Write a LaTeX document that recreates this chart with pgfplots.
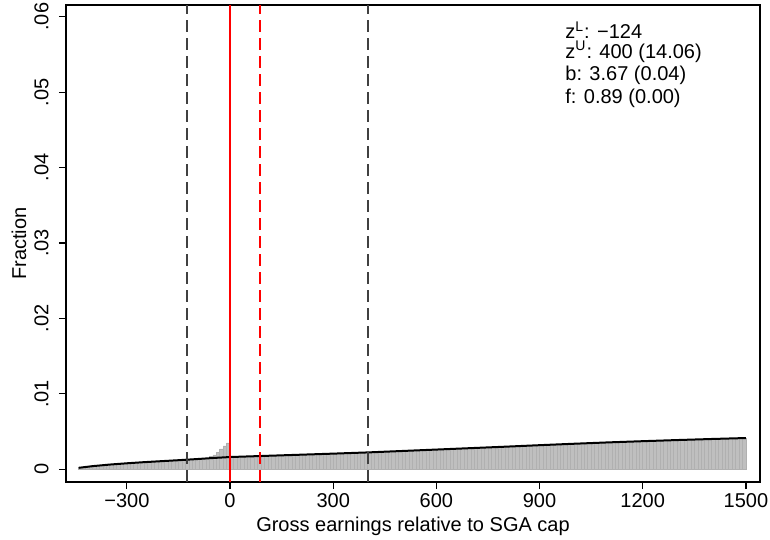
\documentclass[border=0pt]{standalone}
\usepackage{fontspec}
\setmainfont{Liberation Sans}
\usepackage{pgfplots}
\pgfplotsset{compat=1.18}
\begin{document}
\begin{tikzpicture}
\useasboundingbox (-33pt,-29pt) rectangle (352pt,241pt);
\begin{axis}[
  at={(0,0)}, anchor=south west,
  width=347pt, height=238.5pt, scale only axis,
  xmin=-477, xmax=1541, ymin=-0.00168, ymax=0.06155,
  axis line style={black, line width=0.6pt},
  tick align=outside, major tick length=3.5pt,
  tick style={black, line width=0.6pt},
  xtick pos=bottom, ytick pos=left,
  xtick={-300,0,300,600,900,1200,1500},
  xticklabels={−300,0,300,600,900,1200,1500},
  xticklabel style={inner ysep=2pt},
  ytick={0,0.01,0.02,0.03,0.04,0.05,0.06},
  yticklabels={0,.01,.02,.03,.04,.05,.06},
  scaled y ticks=false,
  yticklabel style={rotate=90, anchor=south, inner ysep=5pt},
  xlabel={Gross earnings relative to SGA cap},
  ylabel={Fraction},
  every axis x label/.style={at={(axis description cs:0.5,-0.0587)}, anchor=north},
  every axis y label/.style={at={(axis description cs:-0.047,0.5)}, rotate=90, anchor=south},
  clip=true,
]
\addplot[ybar interval, fill=gray!50, draw=gray!62, line width=0.25pt] table[row sep=\\] {
x y\\
-440 0.00023\\ -430 0.00028\\ -420 0.00034\\ -410 0.00039\\
-400 0.00044\\ -390 0.00048\\ -380 0.00053\\ -370 0.00057\\ -360 0.00061\\
-350 0.00065\\ -340 0.00068\\ -330 0.00072\\ -320 0.00075\\ -310 0.00078\\
-300 0.00082\\ -290 0.00085\\ -280 0.00088\\ -270 0.00091\\ -260 0.00094\\
-250 0.00096\\ -240 0.00099\\ -230 0.00102\\ -220 0.00104\\ -210 0.00107\\
-200 0.00109\\ -190 0.00112\\ -180 0.00114\\ -170 0.00117\\ -160 0.00120\\
-150 0.00122\\ -140 0.00125\\ -130 0.00128\\ -120 0.00131\\ -110 0.00134\\
-100 0.00137\\ -90 0.00140\\ -80 0.00143\\ -70 0.00146\\ -60 0.00172\\
-50 0.00190\\ -40 0.00220\\ -30 0.00270\\ -20 0.00310\\ -10 0.00350\\
0 0.00164\\ 10 0.00165\\ 20 0.00167\\ 30 0.00168\\ 40 0.00170\\
50 0.00171\\ 60 0.00173\\ 70 0.00174\\ 80 0.00176\\ 90 0.00177\\
100 0.00179\\ 110 0.00180\\ 120 0.00182\\ 130 0.00183\\ 140 0.00185\\
150 0.00186\\ 160 0.00188\\ 170 0.00189\\ 180 0.00191\\ 190 0.00192\\
200 0.00194\\ 210 0.00195\\ 220 0.00197\\ 230 0.00198\\ 240 0.00200\\
250 0.00201\\ 260 0.00203\\ 270 0.00204\\ 280 0.00206\\ 290 0.00207\\
300 0.00209\\ 310 0.00210\\ 320 0.00212\\ 330 0.00214\\ 340 0.00215\\
350 0.00217\\ 360 0.00218\\ 370 0.00220\\ 380 0.00222\\ 390 0.00223\\
400 0.00225\\ 410 0.00227\\ 420 0.00229\\ 430 0.00231\\ 440 0.00233\\
450 0.00234\\ 460 0.00236\\ 470 0.00238\\ 480 0.00240\\ 490 0.00242\\
500 0.00244\\ 510 0.00246\\ 520 0.00248\\ 530 0.00250\\ 540 0.00252\\
550 0.00253\\ 560 0.00255\\ 570 0.00257\\ 580 0.00259\\ 590 0.00261\\
600 0.00263\\ 610 0.00265\\ 620 0.00267\\ 630 0.00269\\ 640 0.00271\\
650 0.00272\\ 660 0.00274\\ 670 0.00276\\ 680 0.00278\\ 690 0.00280\\
700 0.00282\\ 710 0.00284\\ 720 0.00286\\ 730 0.00288\\ 740 0.00290\\
750 0.00291\\ 760 0.00293\\ 770 0.00295\\ 780 0.00297\\ 790 0.00299\\
800 0.00301\\ 810 0.00303\\ 820 0.00305\\ 830 0.00307\\ 840 0.00309\\
850 0.00311\\ 860 0.00313\\ 870 0.00315\\ 880 0.00317\\ 890 0.00319\\
900 0.00321\\ 910 0.00323\\ 920 0.00325\\ 930 0.00327\\ 940 0.00329\\
950 0.00330\\ 960 0.00332\\ 970 0.00334\\ 980 0.00336\\ 990 0.00338\\
1000 0.00340\\ 1010 0.00342\\ 1020 0.00344\\ 1030 0.00345\\ 1040 0.00347\\
1050 0.00349\\ 1060 0.00351\\ 1070 0.00353\\ 1080 0.00354\\ 1090 0.00356\\
1100 0.00358\\ 1110 0.00359\\ 1120 0.00361\\ 1130 0.00363\\ 1140 0.00364\\
1150 0.00366\\ 1160 0.00367\\ 1170 0.00369\\ 1180 0.00371\\ 1190 0.00372\\
1200 0.00374\\ 1210 0.00375\\ 1220 0.00377\\ 1230 0.00378\\ 1240 0.00380\\
1250 0.00381\\ 1260 0.00383\\ 1270 0.00384\\ 1280 0.00386\\ 1290 0.00387\\
1300 0.00389\\ 1310 0.00390\\ 1320 0.00392\\ 1330 0.00393\\ 1340 0.00394\\
1350 0.00396\\ 1360 0.00397\\ 1370 0.00399\\ 1380 0.00400\\ 1390 0.00401\\
1400 0.00403\\ 1410 0.00404\\ 1420 0.00405\\ 1430 0.00407\\ 1440 0.00408\\
1450 0.00409\\ 1460 0.00410\\ 1470 0.00412\\ 1480 0.00413\\ 1490 0.00414\\
1500 0.00414\\
};
\addplot[black, line width=1pt] coordinates {
(-440,0.00020) (-420,0.00031) (-400,0.00042) (-350,0.00063) (-300,0.00080)
(-250,0.00095) (-200,0.00108) (-150,0.00121) (-100,0.00135) (-50,0.00150)
(0,0.00163) (100,0.00178) (200,0.00193) (300,0.00208) (400,0.00224)
(500,0.00243) (600,0.00262) (700,0.00281) (800,0.00300) (900,0.00320)
(1000,0.00339) (1100,0.00357) (1200,0.00373) (1300,0.00388) (1400,0.00402)
(1500,0.00415)
};
\addplot[black!75, line width=1pt, dash pattern=on 6pt off 3pt] coordinates {(-124,-0.00168) (-124,0.06155)};
\addplot[black!75, line width=1pt, dash pattern=on 6pt off 3pt] coordinates {(400,-0.00168) (400,0.06155)};
\addplot[red, line width=0.9pt, dash pattern=on 6pt off 3pt] coordinates {(88,-0.00168) (88,0.06155)};
\draw[red, line width=0.9pt, solid] (axis cs:0,-0.00168) -- (axis cs:0,0.06155);
\node[anchor=base west, inner sep=0pt] at (axis cs:974,0.05714) {z\textsuperscript{L}: −124};
\node[anchor=base west, inner sep=0pt] at (axis cs:974,0.05449) {z\textsuperscript{U}: 400 (14.06)};
\node[anchor=base west, inner sep=0pt] at (axis cs:974,0.05148) {b: 3.67 (0.04)};
\node[anchor=base west, inner sep=0pt] at (axis cs:974,0.04843) {f: 0.89 (0.00)};
\end{axis}
\end{tikzpicture}
\end{document}
